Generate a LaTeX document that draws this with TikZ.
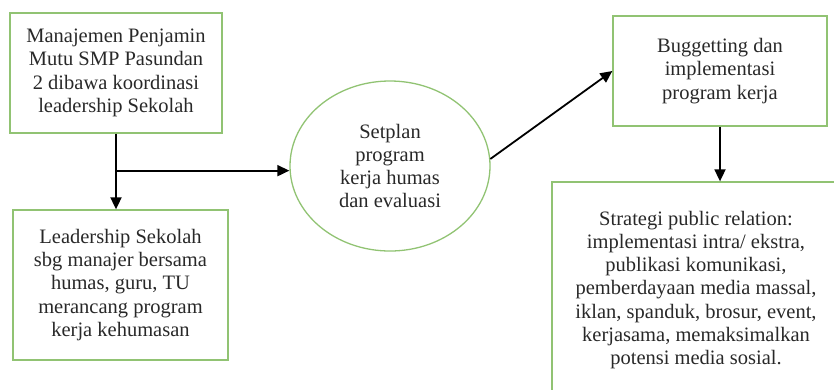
\documentclass[tikz,border=0pt]{standalone}
\usepackage{fontspec}
\setmainfont{Liberation Serif}
\usetikzlibrary{arrows.meta,shapes.geometric,calc}
\definecolor{boxgreen}{RGB}{145,195,115}
\definecolor{txt}{RGB}{40,40,40}
\tikzset{
  fnt/.style={font=\fontsize{20.5}{23.3}\selectfont},
  box/.style={draw=boxgreen, line width=1.3pt, rectangle, align=center, text=txt,
    fnt, inner sep=0pt},
  ell/.style={draw=boxgreen, line width=1.3pt, ellipse, align=center, text=txt,
    fnt, inner sep=0pt},
  lbl/.style={align=center, text=txt, fnt, inner sep=0pt},
  arr/.style={line width=1.8pt, -{Triangle[length=12pt,width=11pt]}}
}
\begin{document}
\begin{tikzpicture}[x=1pt,y=-1pt]
\useasboundingbox (0,0) rectangle (834,389);
\clip (0,0) rectangle (834,389);
\node[box, minimum width=212pt, minimum height=120pt] (b1) at (116,73)
  {Manajemen Penjamin\\Mutu SMP Pasundan\\2 dibawa koordinasi\\leadership Sekolah};
\node[box, minimum width=215pt, minimum height=150pt] (b2) at (120.5,285)
  {Leadership Sekolah\\sbg manajer bersama\\humas, guru, TU\\merancang program\\kerja kehumasan};
\node[ell, minimum width=200pt, minimum height=170pt] (e) at (390,166)
  {Setplan\\program\\kerja humas\\dan evaluasi};
\node[box, minimum width=214pt, minimum height=110pt] (b3) at (720,71)
  {Buggetting dan\\implementasi\\program kerja};
\node[box, minimum width=296pt, minimum height=236pt] (b4) at (700,300) {};
\node[lbl] (b4t) at (696,290)
  {Strategi public relation:\\implementasi intra/ ekstra,\\publikasi komunikasi,\\pemberdayaan media massal,\\iklan, spanduk, brosur, event,\\kerjasama, memaksimalkan\\potensi media sosial.};
\coordinate (br) at ($(b1.south)+(0,37)$);
\draw[arr] (b1.south) -- (b1.south |- b2.north);
\draw[arr] (br) -- (br -| e.west);
\draw[arr] (e.4) -- (b3.west);
\draw[arr] (b3.south) -- (b3.south |- b4.north);
\end{tikzpicture}
\end{document}
